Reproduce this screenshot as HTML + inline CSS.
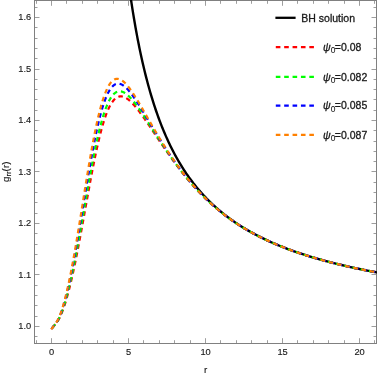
<!DOCTYPE html>
<html><head><meta charset="utf-8"><title>plot</title>
<style>html,body{margin:0;padding:0;background:#fff;}body{width:378px;height:376px;position:relative;overflow:hidden;font-family:"Liberation Sans",sans-serif;}</style></head>
<body>
<svg width="378" height="376" viewBox="0 0 378 376" style="position:absolute;left:0;top:0;will-change:transform;font-family:'Liberation Sans',sans-serif">
<defs><clipPath id="c"><rect x="34.70" y="0" width="342.20" height="343.30"/></clipPath></defs>
<path d="M36.5 343.5 v-3.3 M36.5 0.5 v3.3 M51.5 343.5 v-5.3 M51.5 0.5 v5.3 M66.5 343.5 v-3.3 M66.5 0.5 v3.3 M82.5 343.5 v-3.3 M82.5 0.5 v3.3 M97.5 343.5 v-3.3 M97.5 0.5 v3.3 M113.5 343.5 v-3.3 M113.5 0.5 v3.3 M128.5 343.5 v-5.3 M128.5 0.5 v5.3 M143.5 343.5 v-3.3 M143.5 0.5 v3.3 M159.5 343.5 v-3.3 M159.5 0.5 v3.3 M174.5 343.5 v-3.3 M174.5 0.5 v3.3 M190.5 343.5 v-3.3 M190.5 0.5 v3.3 M205.5 343.5 v-5.3 M205.5 0.5 v5.3 M220.5 343.5 v-3.3 M220.5 0.5 v3.3 M236.5 343.5 v-3.3 M236.5 0.5 v3.3 M251.5 343.5 v-3.3 M251.5 0.5 v3.3 M267.5 343.5 v-3.3 M267.5 0.5 v3.3 M282.5 343.5 v-5.3 M282.5 0.5 v5.3 M297.5 343.5 v-3.3 M297.5 0.5 v3.3 M313.5 343.5 v-3.3 M313.5 0.5 v3.3 M328.5 343.5 v-3.3 M328.5 0.5 v3.3 M344.5 343.5 v-3.3 M344.5 0.5 v3.3 M359.5 343.5 v-5.3 M359.5 0.5 v5.3 M374.5 343.5 v-3.3 M374.5 0.5 v3.3 M34.5 336.5 h3.0 M376.5 336.5 h-3.0 M34.5 326.5 h5.0 M376.5 326.5 h-5.0 M34.5 316.5 h3.0 M376.5 316.5 h-3.0 M34.5 305.5 h3.0 M376.5 305.5 h-3.0 M34.5 295.5 h3.0 M376.5 295.5 h-3.0 M34.5 285.5 h3.0 M376.5 285.5 h-3.0 M34.5 274.5 h5.0 M376.5 274.5 h-5.0 M34.5 264.5 h3.0 M376.5 264.5 h-3.0 M34.5 254.5 h3.0 M376.5 254.5 h-3.0 M34.5 244.5 h3.0 M376.5 244.5 h-3.0 M34.5 233.5 h3.0 M376.5 233.5 h-3.0 M34.5 223.5 h5.0 M376.5 223.5 h-5.0 M34.5 213.5 h3.0 M376.5 213.5 h-3.0 M34.5 202.5 h3.0 M376.5 202.5 h-3.0 M34.5 192.5 h3.0 M376.5 192.5 h-3.0 M34.5 182.5 h3.0 M376.5 182.5 h-3.0 M34.5 171.5 h5.0 M376.5 171.5 h-5.0 M34.5 161.5 h3.0 M376.5 161.5 h-3.0 M34.5 151.5 h3.0 M376.5 151.5 h-3.0 M34.5 141.5 h3.0 M376.5 141.5 h-3.0 M34.5 130.5 h3.0 M376.5 130.5 h-3.0 M34.5 120.5 h5.0 M376.5 120.5 h-5.0 M34.5 110.5 h3.0 M376.5 110.5 h-3.0 M34.5 99.5 h3.0 M376.5 99.5 h-3.0 M34.5 89.5 h3.0 M376.5 89.5 h-3.0 M34.5 79.5 h3.0 M376.5 79.5 h-3.0 M34.5 69.5 h5.0 M376.5 69.5 h-5.0 M34.5 58.5 h3.0 M376.5 58.5 h-3.0 M34.5 48.5 h3.0 M376.5 48.5 h-3.0 M34.5 38.5 h3.0 M376.5 38.5 h-3.0 M34.5 27.5 h3.0 M376.5 27.5 h-3.0 M34.5 17.5 h5.0 M376.5 17.5 h-5.0 M34.5 7.5 h3.0 M376.5 7.5 h-3.0" stroke="#9e9e9e" stroke-width="1" fill="none"/>
<rect x="34.5" y="0.5" width="342.0" height="343.0" stroke="#808080" stroke-width="1" fill="none"/>
<g clip-path="url(#c)" fill="none">
<path d="M128.60 -17.37 L129.37 -11.73 L130.14 -6.28 L130.91 -1.00 L131.68 4.11 L132.45 9.07 L133.22 13.88 L133.99 18.54 L134.76 23.06 L135.53 27.46 L136.30 31.73 L137.07 35.88 L137.84 39.91 L138.61 43.83 L139.38 47.65 L140.15 51.37 L140.92 54.98 L141.69 58.51 L142.46 61.94 L143.23 65.29 L144.00 68.55 L144.77 71.73 L145.54 74.84 L146.31 77.87 L147.08 80.82 L147.85 83.71 L148.62 86.53 L149.39 89.29 L150.16 91.98 L150.93 94.61 L151.70 97.19 L152.47 99.71 L153.24 102.17 L154.01 104.58 L154.78 106.94 L155.55 109.25 L156.32 111.51 L157.09 113.72 L157.86 115.89 L158.63 118.02 L159.40 120.10 L160.17 122.14 L160.94 124.14 L161.71 126.11 L162.48 128.03 L163.25 129.92 L164.02 131.77 L164.79 133.59 L165.56 135.37 L166.33 137.13 L167.10 138.85 L167.87 140.53 L168.64 142.19 L169.41 143.82 L170.18 145.42 L170.95 147.00 L171.72 148.54 L172.49 150.06 L173.26 151.55 L174.03 153.02 L174.80 154.47 L175.57 155.89 L176.34 157.28 L177.11 158.66 L177.88 160.01 L178.65 161.34 L179.42 162.65 L180.19 163.94 L180.96 165.21 L181.73 166.46 L182.50 167.68 L183.27 168.90 L184.04 170.09 L184.81 171.26 L185.58 172.42 L186.35 173.56 L187.12 174.68 L187.89 175.79 L188.66 176.88 L189.43 177.95 L190.20 179.01 L190.97 180.06 L191.74 181.09 L192.51 182.10 L193.28 183.11 L194.05 184.09 L194.82 185.07 L195.59 186.03 L196.36 186.98 L197.13 187.91 L197.90 188.83 L198.67 189.74 L199.44 190.64 L200.21 191.53 L200.98 192.40 L201.75 193.27 L202.52 194.12 L203.29 194.96 L204.06 195.79 L204.83 196.61 L205.60 197.42 L206.37 198.23 L207.14 199.02 L207.91 199.80 L208.68 200.57 L209.45 201.33 L210.22 202.08 L210.99 202.83 L211.76 203.56 L212.53 204.29 L213.30 205.01 L214.07 205.72 L214.84 206.42 L215.61 207.11 L216.38 207.79 L217.15 208.47 L217.92 209.14 L218.69 209.80 L219.46 210.46 L220.23 211.10 L221.00 211.74 L221.77 212.38 L222.54 213.00 L223.31 213.62 L224.08 214.23 L224.85 214.84 L225.62 215.44 L226.39 216.03 L227.16 216.62 L227.93 217.20 L228.70 217.77 L229.47 218.34 L230.24 218.90 L231.01 219.46 L231.78 220.01 L232.55 220.56 L233.32 221.10 L234.09 221.63 L234.86 222.16 L235.63 222.68 L236.40 223.20 L237.94 224.22 L239.48 225.22 L241.02 226.20 L242.56 227.17 L244.10 228.11 L245.64 229.04 L247.18 229.94 L248.72 230.84 L250.26 231.71 L251.80 232.57 L253.34 233.42 L254.88 234.25 L256.42 235.06 L257.96 235.86 L259.50 236.65 L261.04 237.42 L262.58 238.18 L264.12 238.93 L265.66 239.66 L267.20 240.38 L268.74 241.09 L270.28 241.79 L271.82 242.48 L273.36 243.15 L274.90 243.82 L276.44 244.47 L277.98 245.12 L279.52 245.75 L281.06 246.38 L282.60 246.99 L284.14 247.60 L285.68 248.19 L287.22 248.78 L288.76 249.36 L290.30 249.93 L291.84 250.49 L293.38 251.04 L294.92 251.59 L296.46 252.13 L298.00 252.66 L299.54 253.18 L301.08 253.69 L302.62 254.20 L304.16 254.70 L305.70 255.20 L307.24 255.68 L308.78 256.16 L310.32 256.64 L311.86 257.11 L313.40 257.57 L314.94 258.02 L316.48 258.47 L318.02 258.91 L319.56 259.35 L321.10 259.78 L322.64 260.21 L324.18 260.63 L325.72 261.05 L327.26 261.46 L328.80 261.86 L330.34 262.26 L331.88 262.66 L333.42 263.05 L334.96 263.43 L336.50 263.82 L338.04 264.19 L339.58 264.56 L341.12 264.93 L342.66 265.29 L344.20 265.65 L345.74 266.01 L347.28 266.36 L348.82 266.70 L350.36 267.05 L351.90 267.39 L353.44 267.72 L354.98 268.05 L356.52 268.38 L358.06 268.70 L359.60 269.02 L361.14 269.34 L362.68 269.65 L364.22 269.96 L365.76 270.27 L367.30 270.57 L368.84 270.87 L370.38 271.17 L371.92 271.46 L373.46 271.75 L375.00 272.04 L376.54 272.32 L378.08 272.60" stroke="#000" stroke-width="2.4"/>
<path d="M51.20 329.30 L56.99 322.22 L57.61 321.30 L58.22 320.29 L58.84 319.20 L59.45 318.03 L60.07 316.77 L60.69 315.43 L61.30 314.00 L61.92 312.50 L62.53 310.92 L63.15 309.25 L63.77 307.51 L64.38 305.70 L65.00 303.80 L65.61 301.83 L66.23 299.79 L66.85 297.68 L67.46 295.49 L68.08 293.23 L68.69 290.91 L69.31 288.52 L69.93 286.06 L70.54 283.53 L71.16 280.94 L71.77 278.29 L72.39 275.58 L73.01 272.81 L73.62 269.99 L74.24 267.11 L74.85 264.18 L75.47 261.20 L76.09 258.17 L76.70 255.09 L77.32 251.97 L77.93 248.81 L78.55 245.61 L79.17 242.38 L79.78 239.11 L80.40 235.81 L81.01 232.49 L81.63 229.14 L82.25 225.77 L82.86 222.39 L83.48 218.99 L84.09 215.58 L84.71 212.16 L85.33 208.74 L85.94 205.32 L86.56 201.90 L87.17 198.49 L87.79 195.09 L88.41 191.70 L89.02 188.33 L89.64 184.99 L90.25 181.66 L90.87 178.37 L91.49 175.11 L92.10 171.89 L92.72 168.70 L93.33 165.56 L93.95 162.47 L94.57 159.42 L95.18 156.43 L95.80 153.49 L96.41 150.61 L97.03 147.79 L97.65 145.03 L98.26 142.34 L98.88 139.72 L99.49 137.17 L100.11 134.70 L100.73 132.29 L101.34 129.96 L101.96 127.71 L102.57 125.54 L103.19 123.45 L103.81 121.44 L104.42 119.51 L105.04 117.66 L105.65 115.89 L106.27 114.21 L106.89 112.60 L107.50 111.08 L108.12 109.64 L108.73 108.28 L109.35 107.01 L109.97 105.81 L110.58 104.69 L111.20 103.65 L111.81 102.68 L112.43 101.80 L113.05 100.98 L113.66 100.24 L114.28 99.57 L114.89 98.97 L115.51 98.43 L116.13 97.96 L116.74 97.56 L117.36 97.22 L117.97 96.94 L118.59 96.72 L119.21 96.55 L119.82 96.45 L120.44 96.39 L121.05 96.39 L121.67 96.43 L122.29 96.52 L122.90 96.66 L123.52 96.85 L124.13 97.07 L124.75 97.33 L125.37 97.64 L125.98 97.98 L126.60 98.36 L127.21 98.76 L127.83 99.21 L128.45 99.68 L129.06 100.18 L129.68 100.71 L130.29 101.26 L130.91 101.84 L131.53 102.45 L132.14 103.07 L132.76 103.72 L133.37 104.39 L133.99 105.07 L134.61 105.78 L135.22 106.50 L135.84 107.23 L136.45 107.98 L137.07 108.75 L137.69 109.53 L138.30 110.32 L138.92 111.12 L139.53 111.93 L140.15 112.75 L140.77 113.58 L141.38 114.42 L142.00 115.27 L142.61 116.13 L143.23 116.99 L143.85 117.86 L144.46 118.74 L145.08 119.62 L145.69 120.50 L146.31 121.39 L146.93 122.29 L147.54 123.18 L148.16 124.09 L148.77 124.99 L149.39 125.90 L150.01 126.81 L150.62 127.72 L151.24 128.63 L151.85 129.55 L152.47 130.46 L153.09 131.38 L153.70 132.29 L154.32 133.21 L154.93 134.13 L155.55 135.05 L156.17 135.96 L156.78 136.88 L157.40 137.80 L158.01 138.71 L158.63 139.62 L159.25 140.54 L159.86 141.45 L160.48 142.36 L161.09 143.27 L161.71 144.17 L162.33 145.07 L162.94 145.98 L163.56 146.88 L164.17 147.77 L164.79 148.67 L165.41 149.56 L166.02 150.45 L166.64 151.33 L167.25 152.21 L167.87 153.09 L168.49 153.97 L169.10 154.84 L169.72 155.71 L170.33 156.58 L170.95 157.44 L171.57 158.29 L172.18 159.15 L172.80 160.00 L173.41 160.85 L174.03 161.69 L174.65 162.53 L175.26 163.36 L175.88 164.19 L176.49 165.01 L177.11 165.83 L177.73 166.65 L178.34 167.46 L178.96 168.27 L179.57 169.07 L180.19 169.87 L180.81 170.67 L181.42 171.45 L182.04 172.24 L182.65 173.02 L183.27 173.79 L183.89 174.56 L184.50 175.33 L185.12 176.09 L185.73 176.84 L186.35 177.59 L186.97 178.34 L187.58 179.08 L188.20 179.82 L188.81 180.55 L189.43 181.27 L190.05 181.99 L190.66 182.71 L191.28 183.42 L191.89 184.13 L192.51 184.83 L193.13 185.53 L193.74 186.22 L194.36 186.90 L194.97 187.58 L195.59 188.26 L196.21 188.93 L196.82 189.60 L197.44 190.26 L198.05 190.92 L198.67 191.57 L199.29 192.22 L199.90 192.86 L200.52 193.50 L201.13 194.13 L201.75 194.76 L202.37 195.39 L202.98 196.00 L203.60 196.62 L204.21 197.23 L204.83 197.83 L205.45 198.43 L206.06 199.03 L206.68 199.62 L207.29 200.21 L207.91 200.79 L208.53 201.37 L209.14 201.94 L209.76 202.51 L210.37 203.07 L210.99 203.64 L211.61 204.19 L212.22 204.74 L212.84 205.29 L213.45 205.83 L214.07 206.37 L214.69 206.91 L215.30 207.44 L215.92 207.96 L216.53 208.49 L217.15 209.00 L217.77 209.52 L218.38 210.03 L219.00 210.54 L219.61 211.04 L220.23 211.54 L220.85 212.03 L221.46 212.52 L222.08 213.01 L222.69 213.49 L223.31 213.97 L223.93 214.45 L224.54 214.92 L225.16 215.39 L225.77 215.85 L226.39 216.32 L227.01 216.77 L227.62 217.23 L228.24 217.68 L228.85 218.13 L229.47 218.57 L230.09 219.01 L230.70 219.45 L231.32 219.88 L231.93 220.31 L232.55 220.74 L233.17 221.16 L233.78 221.59 L234.40 222.00 L235.01 222.42 L235.63 222.83 L236.25 223.24 L236.40 223.34 L237.94 224.35 L239.48 225.33 L241.02 226.30 L242.56 227.26 L244.10 228.19 L245.64 229.11 L247.18 230.01 L248.72 230.90 L250.26 231.77 L251.80 232.62 L253.34 233.46 L254.88 234.28 L256.42 235.09 L257.96 235.89 L259.50 236.67 L261.04 237.44 L262.58 238.20 L264.12 238.95 L265.66 239.68 L267.20 240.40 L268.74 241.11 L270.28 241.80 L271.82 242.49 L273.36 243.16 L274.90 243.83 L276.44 244.48 L277.98 245.13 L279.52 245.76 L281.06 246.38 L282.60 247.00 L284.14 247.60 L285.68 248.20 L287.22 248.78 L288.76 249.36 L290.30 249.93 L291.84 250.49 L293.38 251.05 L294.92 251.59 L296.46 252.13 L298.00 252.66 L299.54 253.18 L301.08 253.70 L302.62 254.20 L304.16 254.70 L305.70 255.20 L307.24 255.68 L308.78 256.16 L310.32 256.64 L311.86 257.11 L313.40 257.57 L314.94 258.02 L316.48 258.47 L318.02 258.91 L319.56 259.35 L321.10 259.78 L322.64 260.21 L324.18 260.63 L325.72 261.05 L327.26 261.46 L328.80 261.86 L330.34 262.26 L331.88 262.66 L333.42 263.05 L334.96 263.43 L336.50 263.82 L338.04 264.19 L339.58 264.56 L341.12 264.93 L342.66 265.29 L344.20 265.65 L345.74 266.01 L347.28 266.36 L348.82 266.70 L350.36 267.05 L351.90 267.39 L353.44 267.72 L354.98 268.05 L356.52 268.38 L358.06 268.70 L359.60 269.02 L361.14 269.34 L362.68 269.65 L364.22 269.96 L365.76 270.27 L367.30 270.57 L368.84 270.87 L370.38 271.17 L371.92 271.46 L373.46 271.75 L375.00 272.04 L376.54 272.32 L378.08 272.60" stroke="#ff0000" stroke-width="2.2" stroke-dasharray="4.6 3.792" stroke-dashoffset="-1.85"/>
<path d="M51.20 329.30 L56.99 321.98 L57.61 321.00 L58.22 319.93 L58.84 318.77 L59.45 317.51 L60.07 316.17 L60.69 314.74 L61.30 313.22 L61.92 311.61 L62.53 309.92 L63.15 308.14 L63.77 306.28 L64.38 304.34 L65.00 302.31 L65.61 300.21 L66.23 298.03 L66.85 295.77 L67.46 293.44 L68.08 291.04 L68.69 288.56 L69.31 286.01 L69.93 283.39 L70.54 280.70 L71.16 277.95 L71.77 275.14 L72.39 272.26 L73.01 269.33 L73.62 266.33 L74.24 263.29 L74.85 260.19 L75.47 257.03 L76.09 253.84 L76.70 250.59 L77.32 247.31 L77.93 243.99 L78.55 240.62 L79.17 237.23 L79.78 233.81 L80.40 230.36 L81.01 226.88 L81.63 223.39 L82.25 219.88 L82.86 216.35 L83.48 212.82 L84.09 209.28 L84.71 205.73 L85.33 202.19 L85.94 198.66 L86.56 195.13 L87.17 191.61 L87.79 188.12 L88.41 184.64 L89.02 181.18 L89.64 177.76 L90.25 174.37 L90.87 171.01 L91.49 167.69 L92.10 164.41 L92.72 161.18 L93.33 158.00 L93.95 154.87 L94.57 151.79 L95.18 148.78 L95.80 145.83 L96.41 142.94 L97.03 140.12 L97.65 137.37 L98.26 134.69 L98.88 132.08 L99.49 129.55 L100.11 127.10 L100.73 124.73 L101.34 122.44 L101.96 120.23 L102.57 118.10 L103.19 116.06 L103.81 114.10 L104.42 112.23 L105.04 110.44 L105.65 108.74 L106.27 107.12 L106.89 105.59 L107.50 104.14 L108.12 102.78 L108.73 101.50 L109.35 100.30 L109.97 99.19 L110.58 98.16 L111.20 97.20 L111.81 96.33 L112.43 95.53 L113.05 94.80 L113.66 94.15 L114.28 93.57 L114.89 93.07 L115.51 92.63 L116.13 92.25 L116.74 91.95 L117.36 91.70 L117.97 91.52 L118.59 91.39 L119.21 91.32 L119.82 91.31 L120.44 91.35 L121.05 91.44 L121.67 91.58 L122.29 91.77 L122.90 92.00 L123.52 92.28 L124.13 92.59 L124.75 92.95 L125.37 93.35 L125.98 93.78 L126.60 94.25 L127.21 94.74 L127.83 95.28 L128.45 95.84 L129.06 96.42 L129.68 97.04 L130.29 97.68 L130.91 98.34 L131.53 99.03 L132.14 99.74 L132.76 100.47 L133.37 101.21 L133.99 101.98 L134.61 102.76 L135.22 103.56 L135.84 104.37 L136.45 105.20 L137.07 106.04 L137.69 106.89 L138.30 107.75 L138.92 108.62 L139.53 109.50 L140.15 110.39 L140.77 111.29 L141.38 112.20 L142.00 113.11 L142.61 114.03 L143.23 114.95 L143.85 115.88 L144.46 116.82 L145.08 117.76 L145.69 118.70 L146.31 119.65 L146.93 120.59 L147.54 121.55 L148.16 122.50 L148.77 123.45 L149.39 124.41 L150.01 125.37 L150.62 126.33 L151.24 127.29 L151.85 128.25 L152.47 129.20 L153.09 130.16 L153.70 131.12 L154.32 132.08 L154.93 133.04 L155.55 133.99 L156.17 134.95 L156.78 135.90 L157.40 136.85 L158.01 137.80 L158.63 138.75 L159.25 139.69 L159.86 140.63 L160.48 141.57 L161.09 142.51 L161.71 143.44 L162.33 144.37 L162.94 145.30 L163.56 146.23 L164.17 147.15 L164.79 148.07 L165.41 148.98 L166.02 149.89 L166.64 150.80 L167.25 151.70 L167.87 152.60 L168.49 153.50 L169.10 154.39 L169.72 155.28 L170.33 156.16 L170.95 157.04 L171.57 157.91 L172.18 158.78 L172.80 159.65 L173.41 160.51 L174.03 161.36 L174.65 162.21 L175.26 163.06 L175.88 163.90 L176.49 164.74 L177.11 165.57 L177.73 166.40 L178.34 167.22 L178.96 168.04 L179.57 168.85 L180.19 169.66 L180.81 170.46 L181.42 171.26 L182.04 172.05 L182.65 172.84 L183.27 173.62 L183.89 174.40 L184.50 175.17 L185.12 175.94 L185.73 176.70 L186.35 177.46 L186.97 178.21 L187.58 178.96 L188.20 179.70 L188.81 180.44 L189.43 181.17 L190.05 181.89 L190.66 182.61 L191.28 183.33 L191.89 184.04 L192.51 184.74 L193.13 185.44 L193.74 186.14 L194.36 186.83 L194.97 187.52 L195.59 188.20 L196.21 188.87 L196.82 189.54 L197.44 190.20 L198.05 190.86 L198.67 191.52 L199.29 192.17 L199.90 192.81 L200.52 193.46 L201.13 194.09 L201.75 194.72 L202.37 195.35 L202.98 195.97 L203.60 196.58 L204.21 197.20 L204.83 197.80 L205.45 198.40 L206.06 199.00 L206.68 199.59 L207.29 200.18 L207.91 200.77 L208.53 201.34 L209.14 201.92 L209.76 202.49 L210.37 203.06 L210.99 203.62 L211.61 204.17 L212.22 204.73 L212.84 205.27 L213.45 205.82 L214.07 206.36 L214.69 206.89 L215.30 207.42 L215.92 207.95 L216.53 208.47 L217.15 208.99 L217.77 209.51 L218.38 210.02 L219.00 210.53 L219.61 211.03 L220.23 211.53 L220.85 212.02 L221.46 212.51 L222.08 213.00 L222.69 213.49 L223.31 213.97 L223.93 214.44 L224.54 214.91 L225.16 215.38 L225.77 215.85 L226.39 216.31 L227.01 216.77 L227.62 217.22 L228.24 217.67 L228.85 218.12 L229.47 218.57 L230.09 219.01 L230.70 219.44 L231.32 219.88 L231.93 220.31 L232.55 220.74 L233.17 221.16 L233.78 221.58 L234.40 222.00 L235.01 222.42 L235.63 222.83 L236.25 223.24 L236.40 223.34 L237.94 224.35 L239.48 225.33 L241.02 226.30 L242.56 227.26 L244.10 228.19 L245.64 229.11 L247.18 230.01 L248.72 230.90 L250.26 231.76 L251.80 232.62 L253.34 233.46 L254.88 234.28 L256.42 235.09 L257.96 235.89 L259.50 236.67 L261.04 237.44 L262.58 238.20 L264.12 238.95 L265.66 239.68 L267.20 240.40 L268.74 241.11 L270.28 241.80 L271.82 242.49 L273.36 243.16 L274.90 243.83 L276.44 244.48 L277.98 245.13 L279.52 245.76 L281.06 246.38 L282.60 247.00 L284.14 247.60 L285.68 248.20 L287.22 248.78 L288.76 249.36 L290.30 249.93 L291.84 250.49 L293.38 251.05 L294.92 251.59 L296.46 252.13 L298.00 252.66 L299.54 253.18 L301.08 253.70 L302.62 254.20 L304.16 254.70 L305.70 255.20 L307.24 255.68 L308.78 256.16 L310.32 256.64 L311.86 257.11 L313.40 257.57 L314.94 258.02 L316.48 258.47 L318.02 258.91 L319.56 259.35 L321.10 259.78 L322.64 260.21 L324.18 260.63 L325.72 261.05 L327.26 261.46 L328.80 261.86 L330.34 262.26 L331.88 262.66 L333.42 263.05 L334.96 263.43 L336.50 263.82 L338.04 264.19 L339.58 264.56 L341.12 264.93 L342.66 265.29 L344.20 265.65 L345.74 266.01 L347.28 266.36 L348.82 266.70 L350.36 267.05 L351.90 267.39 L353.44 267.72 L354.98 268.05 L356.52 268.38 L358.06 268.70 L359.60 269.02 L361.14 269.34 L362.68 269.65 L364.22 269.96 L365.76 270.27 L367.30 270.57 L368.84 270.87 L370.38 271.17 L371.92 271.46 L373.46 271.75 L375.00 272.04 L376.54 272.32 L378.08 272.60" stroke="#00ff00" stroke-width="2.2" stroke-dasharray="4.6 3.792" stroke-dashoffset="-1.65"/>
<path d="M51.20 329.30 L56.99 321.64 L57.61 320.58 L58.22 319.41 L58.84 318.14 L59.45 316.77 L60.07 315.30 L60.69 313.74 L61.30 312.07 L61.92 310.32 L62.53 308.46 L63.15 306.52 L63.77 304.49 L64.38 302.37 L65.00 300.15 L65.61 297.86 L66.23 295.48 L66.85 293.01 L67.46 290.47 L68.08 287.85 L68.69 285.15 L69.31 282.37 L69.93 279.52 L70.54 276.60 L71.16 273.62 L71.77 270.56 L72.39 267.45 L73.01 264.27 L73.62 261.03 L74.24 257.74 L74.85 254.40 L75.47 251.00 L76.09 247.56 L76.70 244.08 L77.32 240.55 L77.93 236.99 L78.55 233.40 L79.17 229.77 L79.78 226.12 L80.40 222.45 L81.01 218.75 L81.63 215.04 L82.25 211.33 L82.86 207.60 L83.48 203.87 L84.09 200.14 L84.71 196.42 L85.33 192.70 L85.94 189.00 L86.56 185.31 L87.17 181.65 L87.79 178.01 L88.41 174.40 L89.02 170.82 L89.64 167.28 L90.25 163.78 L90.87 160.33 L91.49 156.92 L92.10 153.57 L92.72 150.27 L93.33 147.03 L93.95 143.85 L94.57 140.74 L95.18 137.69 L95.80 134.72 L96.41 131.82 L97.03 129.00 L97.65 126.25 L98.26 123.59 L98.88 121.00 L99.49 118.50 L100.11 116.09 L100.73 113.76 L101.34 111.52 L101.96 109.37 L102.57 107.31 L103.19 105.34 L103.81 103.46 L104.42 101.67 L105.04 99.98 L105.65 98.37 L106.27 96.85 L106.89 95.42 L107.50 94.08 L108.12 92.83 L108.73 91.67 L109.35 90.59 L109.97 89.59 L110.58 88.68 L111.20 87.85 L111.81 87.11 L112.43 86.44 L113.05 85.85 L113.66 85.33 L114.28 84.88 L114.89 84.51 L115.51 84.21 L116.13 83.97 L116.74 83.80 L117.36 83.70 L117.97 83.65 L118.59 83.66 L119.21 83.73 L119.82 83.86 L120.44 84.04 L121.05 84.27 L121.67 84.55 L122.29 84.87 L122.90 85.24 L123.52 85.65 L124.13 86.10 L124.75 86.60 L125.37 87.12 L125.98 87.69 L126.60 88.29 L127.21 88.92 L127.83 89.57 L128.45 90.26 L129.06 90.98 L129.68 91.72 L130.29 92.48 L130.91 93.27 L131.53 94.08 L132.14 94.91 L132.76 95.75 L133.37 96.62 L133.99 97.50 L134.61 98.39 L135.22 99.30 L135.84 100.22 L136.45 101.16 L137.07 102.10 L137.69 103.06 L138.30 104.02 L138.92 105.00 L139.53 105.98 L140.15 106.97 L140.77 107.96 L141.38 108.97 L142.00 109.97 L142.61 110.98 L143.23 112.00 L143.85 113.01 L144.46 114.04 L145.08 115.06 L145.69 116.08 L146.31 117.11 L146.93 118.14 L147.54 119.17 L148.16 120.20 L148.77 121.23 L149.39 122.25 L150.01 123.28 L150.62 124.31 L151.24 125.34 L151.85 126.36 L152.47 127.38 L153.09 128.40 L153.70 129.42 L154.32 130.44 L154.93 131.45 L155.55 132.46 L156.17 133.47 L156.78 134.48 L157.40 135.48 L158.01 136.48 L158.63 137.47 L159.25 138.46 L159.86 139.45 L160.48 140.43 L161.09 141.41 L161.71 142.39 L162.33 143.36 L162.94 144.32 L163.56 145.29 L164.17 146.24 L164.79 147.20 L165.41 148.15 L166.02 149.09 L166.64 150.03 L167.25 150.96 L167.87 151.89 L168.49 152.81 L169.10 153.73 L169.72 154.65 L170.33 155.55 L170.95 156.46 L171.57 157.35 L172.18 158.25 L172.80 159.13 L173.41 160.02 L174.03 160.89 L174.65 161.76 L175.26 162.63 L175.88 163.49 L176.49 164.34 L177.11 165.19 L177.73 166.04 L178.34 166.87 L178.96 167.71 L179.57 168.53 L180.19 169.36 L180.81 170.17 L181.42 170.98 L182.04 171.79 L182.65 172.59 L183.27 173.38 L183.89 174.17 L184.50 174.95 L185.12 175.73 L185.73 176.50 L186.35 177.27 L186.97 178.03 L187.58 178.78 L188.20 179.53 L188.81 180.27 L189.43 181.01 L190.05 181.74 L190.66 182.47 L191.28 183.19 L191.89 183.91 L192.51 184.62 L193.13 185.33 L193.74 186.03 L194.36 186.72 L194.97 187.41 L195.59 188.10 L196.21 188.78 L196.82 189.45 L197.44 190.12 L198.05 190.79 L198.67 191.44 L199.29 192.10 L199.90 192.75 L200.52 193.39 L201.13 194.03 L201.75 194.66 L202.37 195.29 L202.98 195.91 L203.60 196.53 L204.21 197.15 L204.83 197.76 L205.45 198.36 L206.06 198.96 L206.68 199.55 L207.29 200.14 L207.91 200.73 L208.53 201.31 L209.14 201.89 L209.76 202.46 L210.37 203.03 L210.99 203.59 L211.61 204.15 L212.22 204.70 L212.84 205.25 L213.45 205.80 L214.07 206.34 L214.69 206.87 L215.30 207.41 L215.92 207.93 L216.53 208.46 L217.15 208.98 L217.77 209.49 L218.38 210.00 L219.00 210.51 L219.61 211.02 L220.23 211.52 L220.85 212.01 L221.46 212.50 L222.08 212.99 L222.69 213.48 L223.31 213.96 L223.93 214.43 L224.54 214.91 L225.16 215.38 L225.77 215.84 L226.39 216.30 L227.01 216.76 L227.62 217.22 L228.24 217.67 L228.85 218.12 L229.47 218.56 L230.09 219.00 L230.70 219.44 L231.32 219.87 L231.93 220.31 L232.55 220.73 L233.17 221.16 L233.78 221.58 L234.40 222.00 L235.01 222.41 L235.63 222.83 L236.25 223.23 L236.40 223.34 L237.94 224.34 L239.48 225.33 L241.02 226.30 L242.56 227.25 L244.10 228.19 L245.64 229.11 L247.18 230.01 L248.72 230.89 L250.26 231.76 L251.80 232.62 L253.34 233.46 L254.88 234.28 L256.42 235.09 L257.96 235.89 L259.50 236.67 L261.04 237.44 L262.58 238.20 L264.12 238.95 L265.66 239.68 L267.20 240.40 L268.74 241.11 L270.28 241.80 L271.82 242.49 L273.36 243.16 L274.90 243.83 L276.44 244.48 L277.98 245.13 L279.52 245.76 L281.06 246.38 L282.60 247.00 L284.14 247.60 L285.68 248.20 L287.22 248.78 L288.76 249.36 L290.30 249.93 L291.84 250.49 L293.38 251.05 L294.92 251.59 L296.46 252.13 L298.00 252.66 L299.54 253.18 L301.08 253.70 L302.62 254.20 L304.16 254.70 L305.70 255.20 L307.24 255.68 L308.78 256.16 L310.32 256.64 L311.86 257.11 L313.40 257.57 L314.94 258.02 L316.48 258.47 L318.02 258.91 L319.56 259.35 L321.10 259.78 L322.64 260.21 L324.18 260.63 L325.72 261.05 L327.26 261.46 L328.80 261.86 L330.34 262.26 L331.88 262.66 L333.42 263.05 L334.96 263.43 L336.50 263.82 L338.04 264.19 L339.58 264.56 L341.12 264.93 L342.66 265.29 L344.20 265.65 L345.74 266.01 L347.28 266.36 L348.82 266.70 L350.36 267.05 L351.90 267.39 L353.44 267.72 L354.98 268.05 L356.52 268.38 L358.06 268.70 L359.60 269.02 L361.14 269.34 L362.68 269.65 L364.22 269.96 L365.76 270.27 L367.30 270.57 L368.84 270.87 L370.38 271.17 L371.92 271.46 L373.46 271.75 L375.00 272.04 L376.54 272.32 L378.08 272.60" stroke="#0000ff" stroke-width="2.2" stroke-dasharray="4.6 3.792" stroke-dashoffset="-0.25"/>
<path d="M51.20 329.30 L56.99 321.43 L57.61 320.32 L58.22 319.09 L58.84 317.76 L59.45 316.32 L60.07 314.77 L60.69 313.12 L61.30 311.38 L61.92 309.53 L62.53 307.58 L63.15 305.54 L63.77 303.40 L64.38 301.16 L65.00 298.84 L65.61 296.42 L66.23 293.92 L66.85 291.33 L67.46 288.66 L68.08 285.90 L68.69 283.07 L69.31 280.16 L69.93 277.17 L70.54 274.11 L71.16 270.97 L71.77 267.78 L72.39 264.51 L73.01 261.19 L73.62 257.80 L74.24 254.36 L74.85 250.87 L75.47 247.33 L76.09 243.74 L76.70 240.11 L77.32 236.44 L77.93 232.73 L78.55 228.99 L79.17 225.23 L79.78 221.44 L80.40 217.63 L81.01 213.80 L81.63 209.96 L82.25 206.12 L82.86 202.27 L83.48 198.42 L84.09 194.57 L84.71 190.74 L85.33 186.92 L85.94 183.11 L86.56 179.33 L87.17 175.58 L87.79 171.85 L88.41 168.16 L89.02 164.51 L89.64 160.90 L90.25 157.33 L90.87 153.82 L91.49 150.36 L92.10 146.96 L92.72 143.62 L93.33 140.35 L93.95 137.14 L94.57 134.00 L95.18 130.94 L95.80 127.95 L96.41 125.05 L97.03 122.22 L97.65 119.48 L98.26 116.82 L98.88 114.25 L99.49 111.77 L100.11 109.38 L100.73 107.08 L101.34 104.88 L101.96 102.76 L102.57 100.74 L103.19 98.81 L103.81 96.98 L104.42 95.24 L105.04 93.60 L105.65 92.05 L106.27 90.59 L106.89 89.23 L107.50 87.95 L108.12 86.77 L108.73 85.67 L109.35 84.67 L109.97 83.75 L110.58 82.91 L111.20 82.16 L111.81 81.49 L112.43 80.90 L113.05 80.39 L113.66 79.95 L114.28 79.59 L114.89 79.30 L115.51 79.08 L116.13 78.93 L116.74 78.84 L117.36 78.82 L117.97 78.86 L118.59 78.96 L119.21 79.11 L119.82 79.32 L120.44 79.59 L121.05 79.90 L121.67 80.26 L122.29 80.67 L122.90 81.12 L123.52 81.62 L124.13 82.15 L124.75 82.72 L125.37 83.33 L125.98 83.98 L126.60 84.66 L127.21 85.36 L127.83 86.10 L128.45 86.87 L129.06 87.66 L129.68 88.48 L130.29 89.32 L130.91 90.18 L131.53 91.06 L132.14 91.96 L132.76 92.88 L133.37 93.81 L133.99 94.76 L134.61 95.73 L135.22 96.71 L135.84 97.70 L136.45 98.70 L137.07 99.71 L137.69 100.73 L138.30 101.76 L138.92 102.79 L139.53 103.84 L140.15 104.88 L140.77 105.94 L141.38 107.00 L142.00 108.06 L142.61 109.13 L143.23 110.20 L143.85 111.27 L144.46 112.34 L145.08 113.42 L145.69 114.49 L146.31 115.57 L146.93 116.64 L147.54 117.72 L148.16 118.79 L148.77 119.87 L149.39 120.94 L150.01 122.01 L150.62 123.08 L151.24 124.15 L151.85 125.21 L152.47 126.27 L153.09 127.33 L153.70 128.39 L154.32 129.44 L154.93 130.49 L155.55 131.53 L156.17 132.57 L156.78 133.61 L157.40 134.64 L158.01 135.67 L158.63 136.70 L159.25 137.71 L159.86 138.73 L160.48 139.74 L161.09 140.74 L161.71 141.74 L162.33 142.74 L162.94 143.73 L163.56 144.71 L164.17 145.69 L164.79 146.67 L165.41 147.64 L166.02 148.60 L166.64 149.56 L167.25 150.51 L167.87 151.46 L168.49 152.40 L169.10 153.33 L169.72 154.26 L170.33 155.19 L170.95 156.10 L171.57 157.02 L172.18 157.92 L172.80 158.82 L173.41 159.72 L174.03 160.61 L174.65 161.49 L175.26 162.37 L175.88 163.24 L176.49 164.10 L177.11 164.96 L177.73 165.82 L178.34 166.66 L178.96 167.50 L179.57 168.34 L180.19 169.17 L180.81 169.99 L181.42 170.81 L182.04 171.62 L182.65 172.43 L183.27 173.23 L183.89 174.03 L184.50 174.81 L185.12 175.60 L185.73 176.38 L186.35 177.15 L186.97 177.91 L187.58 178.67 L188.20 179.43 L188.81 180.17 L189.43 180.92 L190.05 181.66 L190.66 182.39 L191.28 183.11 L191.89 183.83 L192.51 184.55 L193.13 185.26 L193.74 185.96 L194.36 186.66 L194.97 187.35 L195.59 188.04 L196.21 188.72 L196.82 189.40 L197.44 190.07 L198.05 190.74 L198.67 191.40 L199.29 192.05 L199.90 192.70 L200.52 193.35 L201.13 193.99 L201.75 194.63 L202.37 195.26 L202.98 195.88 L203.60 196.50 L204.21 197.12 L204.83 197.73 L205.45 198.33 L206.06 198.93 L206.68 199.53 L207.29 200.12 L207.91 200.71 L208.53 201.29 L209.14 201.87 L209.76 202.44 L210.37 203.01 L210.99 203.57 L211.61 204.13 L212.22 204.69 L212.84 205.24 L213.45 205.78 L214.07 206.32 L214.69 206.86 L215.30 207.39 L215.92 207.92 L216.53 208.45 L217.15 208.97 L217.77 209.48 L218.38 210.00 L219.00 210.50 L219.61 211.01 L220.23 211.51 L220.85 212.00 L221.46 212.50 L222.08 212.99 L222.69 213.47 L223.31 213.95 L223.93 214.43 L224.54 214.90 L225.16 215.37 L225.77 215.84 L226.39 216.30 L227.01 216.76 L227.62 217.21 L228.24 217.67 L228.85 218.11 L229.47 218.56 L230.09 219.00 L230.70 219.44 L231.32 219.87 L231.93 220.30 L232.55 220.73 L233.17 221.16 L233.78 221.58 L234.40 222.00 L235.01 222.41 L235.63 222.82 L236.25 223.23 L236.40 223.33 L237.94 224.34 L239.48 225.33 L241.02 226.30 L242.56 227.25 L244.10 228.19 L245.64 229.11 L247.18 230.01 L248.72 230.89 L250.26 231.76 L251.80 232.62 L253.34 233.46 L254.88 234.28 L256.42 235.09 L257.96 235.89 L259.50 236.67 L261.04 237.44 L262.58 238.20 L264.12 238.95 L265.66 239.68 L267.20 240.40 L268.74 241.11 L270.28 241.80 L271.82 242.49 L273.36 243.16 L274.90 243.83 L276.44 244.48 L277.98 245.13 L279.52 245.76 L281.06 246.38 L282.60 247.00 L284.14 247.60 L285.68 248.20 L287.22 248.78 L288.76 249.36 L290.30 249.93 L291.84 250.49 L293.38 251.05 L294.92 251.59 L296.46 252.13 L298.00 252.66 L299.54 253.18 L301.08 253.70 L302.62 254.20 L304.16 254.70 L305.70 255.20 L307.24 255.68 L308.78 256.16 L310.32 256.64 L311.86 257.11 L313.40 257.57 L314.94 258.02 L316.48 258.47 L318.02 258.91 L319.56 259.35 L321.10 259.78 L322.64 260.21 L324.18 260.63 L325.72 261.05 L327.26 261.46 L328.80 261.86 L330.34 262.26 L331.88 262.66 L333.42 263.05 L334.96 263.43 L336.50 263.82 L338.04 264.19 L339.58 264.56 L341.12 264.93 L342.66 265.29 L344.20 265.65 L345.74 266.01 L347.28 266.36 L348.82 266.70 L350.36 267.05 L351.90 267.39 L353.44 267.72 L354.98 268.05 L356.52 268.38 L358.06 268.70 L359.60 269.02 L361.14 269.34 L362.68 269.65 L364.22 269.96 L365.76 270.27 L367.30 270.57 L368.84 270.87 L370.38 271.17 L371.92 271.46 L373.46 271.75 L375.00 272.04 L376.54 272.32 L378.08 272.60" stroke="#ff8000" stroke-width="2.2" stroke-dasharray="4.6 3.792" stroke-dashoffset="0.00"/>
</g>
<g fill="#1a1a1a" stroke="#1a1a1a" stroke-width="0.14" font-size="9.3px">
<text x="51.60" y="355.3" text-anchor="middle">0</text>
<text x="128.60" y="355.3" text-anchor="middle">5</text>
<text x="205.60" y="355.3" text-anchor="middle">10</text>
<text x="282.60" y="355.3" text-anchor="middle">15</text>
<text x="359.60" y="355.3" text-anchor="middle">20</text>
<text x="31.2" y="329.45" text-anchor="end">1.0</text>
<text x="31.2" y="277.95" text-anchor="end">1.1</text>
<text x="31.2" y="226.45" text-anchor="end">1.2</text>
<text x="31.2" y="174.95" text-anchor="end">1.3</text>
<text x="31.2" y="123.45" text-anchor="end">1.4</text>
<text x="31.2" y="71.95" text-anchor="end">1.5</text>
<text x="31.2" y="20.45" text-anchor="end">1.6</text>
</g>
<g fill="#1a1a1a" stroke="#1a1a1a" stroke-width="0.14" font-size="9.8px">
<text x="205.7" y="372.6" text-anchor="middle">r</text>
<text transform="translate(9.3 181.9) rotate(-90)">g<tspan font-size="7.6px" dy="1.6">rr</tspan><tspan dy="-1.6">(r)</tspan></text>
</g>
<g fill="none">
<path d="M275.4 17.8 H295.6" stroke="#000" stroke-width="2.3"/>
<path d="M275.8 47.10 H314.3" stroke="#ff0000" stroke-width="2.2" stroke-dasharray="4.6 3.78"/>
<path d="M275.8 76.80 H314.3" stroke="#00ff00" stroke-width="2.2" stroke-dasharray="4.6 3.78"/>
<path d="M275.8 105.70 H314.3" stroke="#0000ff" stroke-width="2.2" stroke-dasharray="4.6 3.78"/>
<path d="M275.8 134.80 H314.3" stroke="#ff8000" stroke-width="2.2" stroke-dasharray="4.6 3.78"/>
</g>
<g fill="#1a1a1a" stroke="#1a1a1a" stroke-width="0.3" font-size="10.5px">
<text x="301.3" y="21.7">BH solution</text>
<text x="323.0" y="50.85"><tspan font-style="italic">ψ</tspan><tspan font-size="8.4px" stroke-width="0.1" dy="2.5">0</tspan><tspan dy="-2.5" dx="-0.5">=0.08</tspan></text>
<text x="323.0" y="80.55"><tspan font-style="italic">ψ</tspan><tspan font-size="8.4px" stroke-width="0.1" dy="2.5">0</tspan><tspan dy="-2.5" dx="-0.5">=0.082</tspan></text>
<text x="323.0" y="109.45"><tspan font-style="italic">ψ</tspan><tspan font-size="8.4px" stroke-width="0.1" dy="2.5">0</tspan><tspan dy="-2.5" dx="-0.5">=0.085</tspan></text>
<text x="323.0" y="138.55"><tspan font-style="italic">ψ</tspan><tspan font-size="8.4px" stroke-width="0.1" dy="2.5">0</tspan><tspan dy="-2.5" dx="-0.5">=0.087</tspan></text>
</g>
</svg>
</body></html>
